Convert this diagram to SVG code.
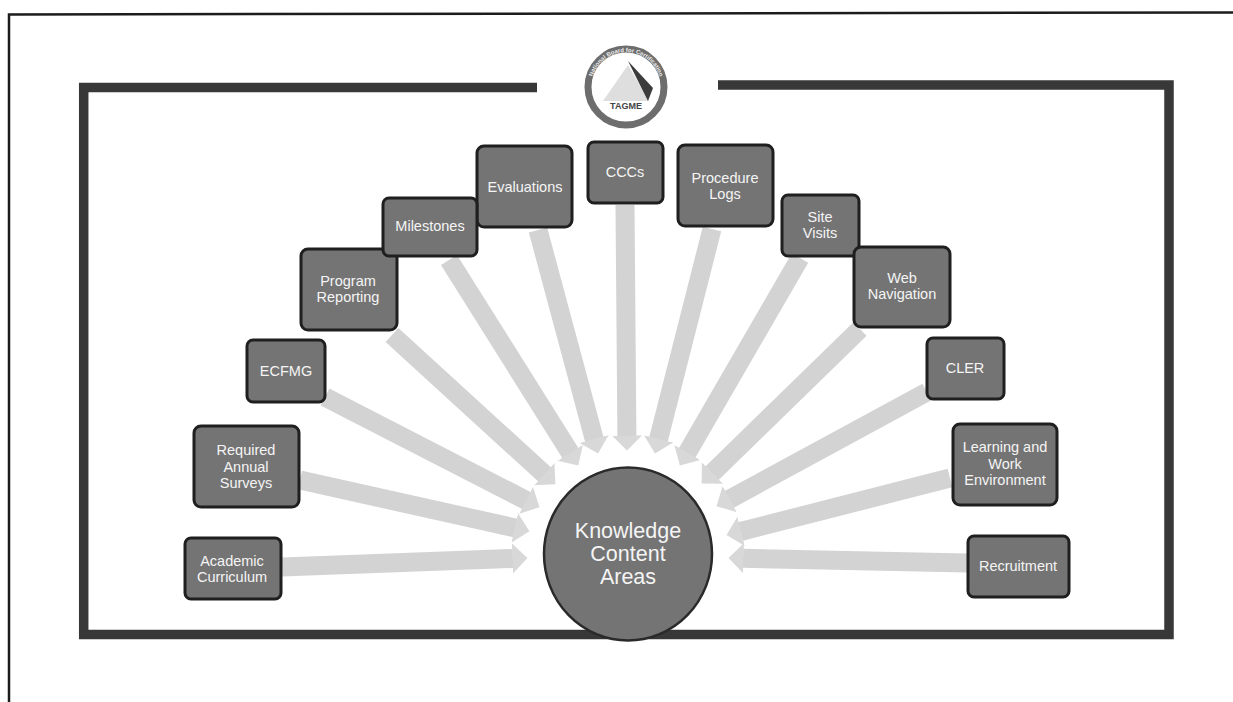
<svg xmlns="http://www.w3.org/2000/svg" width="1233" height="702" viewBox="0 0 1233 702">
<style>
text{font-family:"Liberation Sans",Arial,sans-serif;text-anchor:middle;fill:#f4f4f4}
.l{font-size:14.5px}
.box{fill:#747474;stroke:#1f1f1f;stroke-width:3}
.ar{stroke:#d3d3d3;stroke-width:19;marker-end:url(#head)}
.frame{fill:none;stroke:#383838;stroke-width:9.5}
</style>
<defs>
<marker id="head" markerUnits="userSpaceOnUse" markerWidth="16" markerHeight="32" refX="0.5" refY="16" orient="auto"><path d="M0 1L15 16L0 31Z" fill="#d8d8d8"/></marker>
<path id="arc" d="M591 87A35 35 0 0 1 661 87"/>
</defs>
<rect width="1233" height="702" fill="#fff"/>
<g id="page-frame" fill="none" stroke="#1c1c1c" stroke-width="2.500"><path d="M9 702V14.500L1233 12.500"/></g>
<path id="main-frame" class="frame" d="M537 87.500H83.700V634.500H1169V85H718"/>
<g id="connectors">
<line class="ar" x1="282" y1="567" x2="513" y2="558.500"/>
<line class="ar" x1="300" y1="480" x2="515.300" y2="528"/>
<line class="ar" x1="325" y1="397" x2="526.600" y2="500.600"/>
<line class="ar" x1="392" y1="335" x2="544.700" y2="474.500"/>
<line class="ar" x1="449" y1="260" x2="570.500" y2="453.200"/>
<line class="ar" x1="538" y1="230" x2="594.300" y2="439.500"/>
<line class="ar" x1="625" y1="205" x2="626.900" y2="436"/>
<line class="ar" x1="712" y1="229" x2="658.500" y2="439.400"/>
<line class="ar" x1="800" y1="258" x2="687.100" y2="452.900"/>
<line class="ar" x1="860" y1="329" x2="712" y2="473.300"/>
<line class="ar" x1="927" y1="392" x2="729.300" y2="499.300"/>
<line class="ar" x1="950" y1="478" x2="740.600" y2="531.500"/>
<line class="ar" x1="967" y1="563" x2="743" y2="558.300"/>
</g>
<g id="logo">
<circle cx="626" cy="87" r="38" fill="#fff" stroke="#6d6d6d" stroke-width="7"/>
<polygon points="628,65 603,101 649,101" fill="#dedede"/>
<polygon points="628,61 653,88 648,101" fill="#3c3c3c"/>
<text x="626" y="109" font-size="9" font-weight="bold" style="fill:#444">TAGME</text>
<text font-size="6" font-weight="bold" style="fill:#eee"><textPath href="#arc" startOffset="50%">National Board for Certification</textPath></text>
</g>
<g id="academic-curriculum"><rect class="box" x="185" y="538" width="96" height="61" rx="6"/><text class="l" x="232" y="566">Academic</text><text class="l" x="232" y="582">Curriculum</text></g>
<g id="required-annual-surveys"><rect class="box" x="194" y="426" width="105" height="81" rx="7"/><text class="l" x="246" y="455">Required</text><text class="l" x="246" y="472">Annual</text><text class="l" x="246" y="488">Surveys</text></g>
<g id="ecfmg"><rect class="box" x="247" y="340" width="78" height="62" rx="6"/><text class="l" x="286" y="376">ECFMG</text></g>
<g id="program-reporting"><rect class="box" x="301" y="249" width="96" height="81" rx="7"/><text class="l" x="348" y="286">Program</text><text class="l" x="348" y="302">Reporting</text></g>
<g id="evaluations"><rect class="box" x="477" y="146" width="95" height="81" rx="7"/><text class="l" x="525" y="192">Evaluations</text></g>
<g id="milestones"><rect class="box" x="383" y="198" width="94" height="58" rx="6"/><text class="l" x="430" y="231">Milestones</text></g>
<g id="cccs"><rect class="box" x="588" y="142" width="75" height="61" rx="6"/><text class="l" x="625" y="177">CCCs</text></g>
<g id="procedure-logs"><rect class="box" x="678" y="145" width="95" height="81" rx="7"/><text class="l" x="725" y="183">Procedure</text><text class="l" x="725" y="199">Logs</text></g>
<g id="site-visits"><rect class="box" x="782" y="195" width="77" height="61" rx="6"/><text class="l" x="820" y="222">Site</text><text class="l" x="820" y="238">Visits</text></g>
<g id="web-navigation"><rect class="box" x="854" y="247" width="96" height="80" rx="7"/><text class="l" x="902" y="283">Web</text><text class="l" x="902" y="299">Navigation</text></g>
<g id="cler"><rect class="box" x="927" y="338" width="77" height="61" rx="6"/><text class="l" x="965" y="373">CLER</text></g>
<g id="learning-and-work-environment"><rect class="box" x="953" y="424" width="104" height="81" rx="7"/><text class="l" x="1005" y="452">Learning and</text><text class="l" x="1005" y="469">Work</text><text class="l" x="1005" y="485">Environment</text></g>
<g id="recruitment"><rect class="box" x="968" y="536" width="101" height="61" rx="6"/><text class="l" x="1018" y="571">Recruitment</text></g>
<g id="knowledge-content-areas"><ellipse cx="628" cy="554" rx="84" ry="86.500" fill="#747474" stroke="#2a2a2a" stroke-width="2.500"/><text font-size="21.500" x="628" y="538">Knowledge</text><text font-size="21.500" x="628" y="561">Content</text><text font-size="21.500" x="628" y="584">Areas</text></g>
</svg>
